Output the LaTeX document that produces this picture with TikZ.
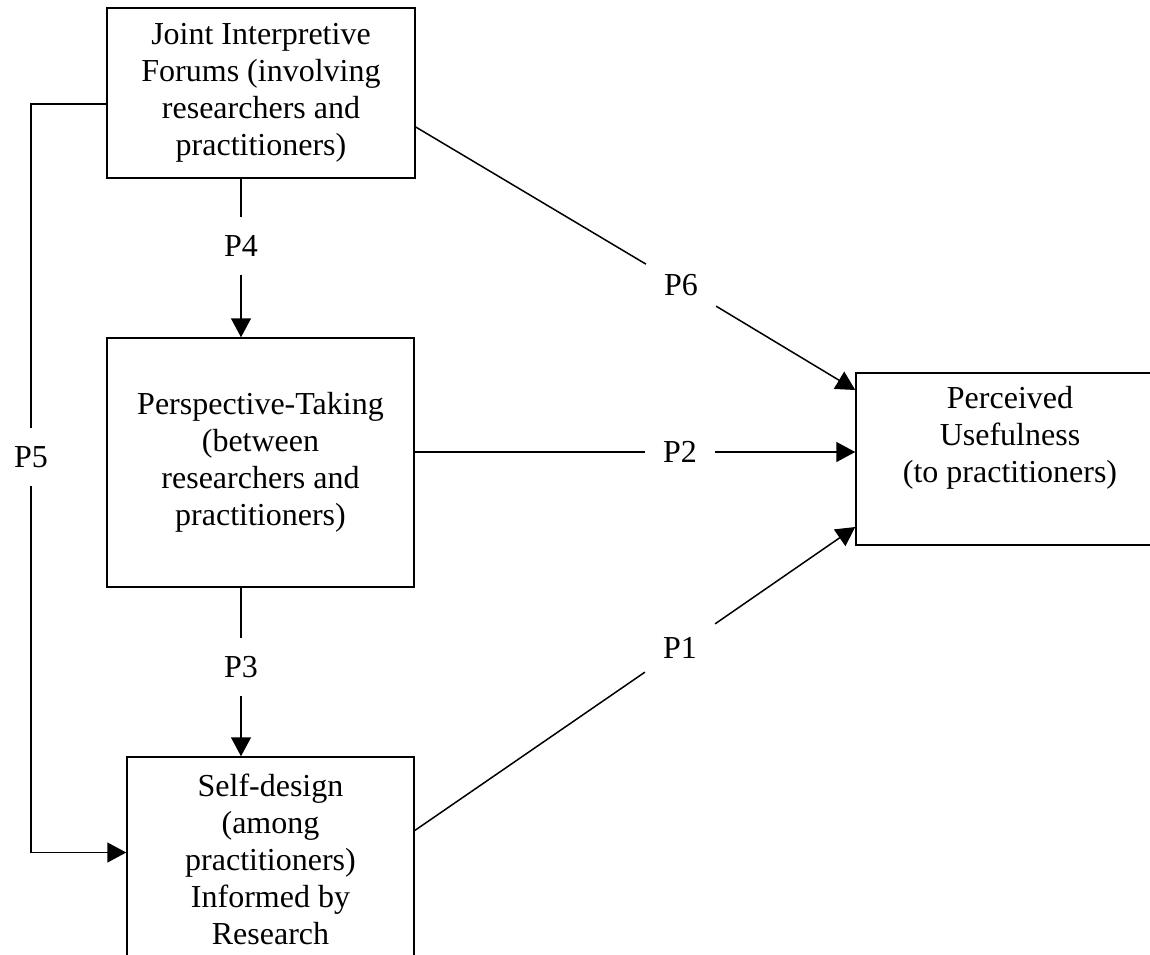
\documentclass[tikz,border=0pt]{standalone}
\usepackage{fontspec}
\setmainfont{Liberation Serif}
\usetikzlibrary{arrows.meta}
\tikzset{conceptbox/.style={draw,line width=1.5pt,align=center,inner sep=0pt,font=\fontsize{32}{37}\selectfont}, plabel/.style={inner sep=18pt,font=\fontsize{32}{37}\selectfont},link/.style={line width=1.5pt},arrowlink/.style={line width=1.5pt,-{Triangle[length=19pt,width=20pt]}}}

\begin{document}
\begin{tikzpicture}[x=1pt,y=-1pt]
\useasboundingbox (0,0) rectangle (1150,954);
\node[conceptbox,minimum width=308pt,minimum height=170pt] (forum) at (261,93) {Joint Interpretive\\Forums (involving\\researchers and\\practitioners)};
\node[conceptbox,minimum width=307pt,minimum height=249pt] (persp) at (260.5,462.5) {Perspective-Taking\\(between\\researchers and\\practitioners)};
\node[conceptbox,minimum width=287pt,minimum height=205pt] (selfdes) at (270.5,859.5) {Self-design\\(among\\practitioners)\\Informed by\\Research};
\node[conceptbox,minimum width=308pt,minimum height=172pt] (useful) at (1010,459) {Perceived\\Usefulness\\(to practitioners)\\[13pt]\mbox{}};
\node[plabel] (p4) at (241,246) {P4};
\node[plabel] (p3) at (241,667) {P3};
\node[plabel] (p5) at (31,457) {P5};
\node[plabel] (p6) at (681,285) {P6};
\node[plabel] (p2) at (680,452) {P2};
\node[plabel] (p1) at (680,648) {P1};
\draw[link] (forum.south -| p4) -- (p4);
\draw[arrowlink] (p4) -- (persp.north -| p4);
\draw[link] (persp.south -| p3) -- (p3);
\draw[arrowlink] (p3) -- (selfdes.north -| p3);
\draw[link] ([yshift=-11pt]forum.west) -| (p5);
\draw[arrowlink] (p5) |- ([yshift=7pt]selfdes.west);
\draw[link] ([yshift=-34pt]forum.east) -- (p6);
\draw[arrowlink] (p6) -- ([yshift=69pt]useful.west);
\draw[link] (persp.east |- p2) -- (p2);
\draw[arrowlink] (p2) -- (useful.west |- p2);
\draw[link] ([yshift=29pt]selfdes.east) -- (p1);
\draw[arrowlink] (p1) -- ([yshift=-68pt]useful.west);
\end{tikzpicture}
\end{document}
